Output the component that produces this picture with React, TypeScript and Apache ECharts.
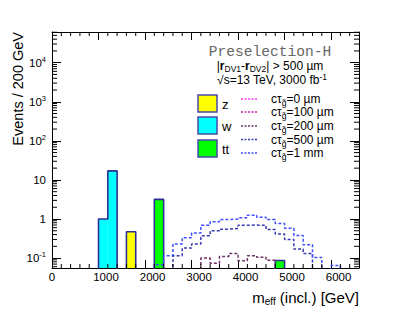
import React, { useEffect, useRef } from 'react';
import * as echarts from 'echarts';

const X_MIN = 0;
const X_MAX = 6600;
const Y_MIN = 0.0557;
const Y_MAX = 61000;
const BIN = 200;
const LOW = Y_MIN * 0.3; // below the frame: drawn clipped, like empty bins

// background histograms: [bin low edge (GeV), events]
const zBins = [[1600, 0.47]];
const wBins = [[1000, 1.0], [1200, 17]];
const ttBins = [[2200, 3.17], [4800, 0.087]];

// signal histograms, bins of 200 GeV starting at 2200 GeV
const sigBinStarts = [2200, 2400, 2600, 2800, 3000, 3200, 3400, 3600, 3800, 4000, 4200, 4400, 4600, 4800, 5000, 5200, 5400, 5600, 5800, 6000, 6200, 6400];
const ct0um   = [0, 0, 0, 0, 0, 0, 0, 0, 0, 0, 0, 0, 0, 0, 0, 0, 0, 0, 0, 0, 0, 0];
const ct100um = [0, 0, 0, 0, 0, 0, 0, 0, 0, 0, 0, 0, 0, 0, 0, 0, 0, 0, 0, 0, 0, 0];
const ct200um = [0, 0, 0, 0, 0, 0.1, 0.074, 0.11, 0.13, 0.085, 0.115, 0.105, 0.088, 0, 0, 0, 0, 0, 0, 0, 0, 0];
const ct500um = [0, 0, 0.115, 0.18, 0.23, 0.37, 0.5, 0.55, 0.57, 0.69, 0.7, 0.69, 0.54, 0.41, 0.3, 0.17, 0.13, 0, 0, 0, 0, 0];
const ct1mm   = [0.067, 0.115, 0.23, 0.33, 0.44, 0.69, 0.85, 0.97, 1.0, 1.07, 1.25, 1.11, 0.97, 0.77, 0.58, 0.38, 0.22, 0.104, 0, 0.065, 0, 0];

const xTickLabels = [0, 1000, 2000, 3000, 4000, 5000, 6000];

const bkgNames = ['z', 'w', 'tt'];
const sigNames = ['0 µm', '100 µm', '200 µm', '500 µm', '1 mm'];

const NAVY = '#2e2e96';
const bkgColors = ['#ffff00', '#00ffff', '#00ff00'];
const sigColors = ['#ff33ff', '#cc1fb0', '#6e3266', '#3a3ab4', '#4050ff'];

const FONT = 'Liberation Sans, Arial, sans-serif';

function outlinePoints(bins: number[][]) {
  const pts: number[][] = [];
  bins.forEach(([x, v], i) => {
    const prev = bins[i - 1];
    if (!prev || prev[0] + BIN !== x) pts.push([x, LOW]);
    pts.push([x, v]);
    const next = bins[i + 1];
    if (!next || next[0] !== x + BIN) pts.push([x + BIN, LOW]);
  });
  return pts;
}

function sigPoints(vals: number[]) {
  const pts: number[][] = [[sigBinStarts[0], LOW]];
  vals.forEach((v, i) => pts.push([sigBinStarts[i], v > 0 ? v : LOW]));
  pts.push([sigBinStarts[sigBinStarts.length - 1] + BIN, LOW]);
  return pts;
}

function yMinorValues() {
  const out: number[][] = [];
  for (let d = -2; d <= 4; d++) {
    for (let k = 2; k <= 9; k++) {
      const v = k * Math.pow(10, d);
      if (v > Y_MIN && v < Y_MAX) out.push([X_MIN, v]);
    }
  }
  return out;
}

function xMinorValues() {
  const out: number[][] = [];
  for (let x = BIN; x < X_MAX; x += BIN) {
    if (x % 1000 !== 0) out.push([x, Y_MIN]);
  }
  return out;
}

export default function App() {
  const ref = useRef<HTMLDivElement>(null);
  useEffect(() => {
    if (!ref.current) return;
    const chart = echarts.init(ref.current, null, { renderer: 'svg' });

    const bkgSets = [zBins, wBins, ttBins];
    const sigSets = [ct0um, ct100um, ct200um, ct500um, ct1mm];

    const fillSeries = bkgSets.map((bins, i) => ({
      type: 'custom',
      name: bkgNames[i],
      clip: true,
      z: 2,
      data: bins,
      encode: { x: 0, y: 1 },
      renderItem: (params: any, api: any) => {
        const x0 = api.value(0);
        const v = api.value(1);
        const p0 = api.coord([x0, v]);
        const p1 = api.coord([x0 + BIN, Y_MIN]);
        return {
          type: 'rect',
          shape: { x: p0[0], y: p0[1], width: p1[0] - p0[0], height: p1[1] - p0[1] },
          style: { fill: bkgColors[i], stroke: 'none' },
        };
      },
    }));

    const outlineSeries = bkgSets.map((bins, i) => ({
      type: 'line',
      name: bkgNames[i] + ' outline',
      step: 'end',
      symbol: 'none',
      z: 3,
      clip: true,
      data: outlinePoints(bins),
      lineStyle: { color: NAVY, width: 1.6 },
    }));

    const sigSeries = sigSets.map((vals, i) => ({
      type: 'line',
      name: sigNames[i],
      step: 'end',
      symbol: 'none',
      z: 4,
      clip: true,
      data: sigPoints(vals),
      lineStyle: { color: sigColors[i], width: 1.5, type: [3, 2] },
    }));

    const yMinor = {
      type: 'custom',
      name: 'yminor',
      clip: false,
      z: 5,
      data: yMinorValues(),
      encode: { x: 0, y: 1 },
      renderItem: (params: any, api: any) => {
        const v = api.value(1);
        const l = api.coord([X_MIN, v]);
        const r = api.coord([X_MAX, v]);
        return {
          type: 'group',
          children: [
            { type: 'line', shape: { x1: l[0], y1: l[1], x2: l[0] + 5, y2: l[1] }, style: { stroke: '#000', lineWidth: 1 } },
            { type: 'line', shape: { x1: r[0] - 5, y1: r[1], x2: r[0], y2: r[1] }, style: { stroke: '#000', lineWidth: 1 } },
          ],
        };
      },
    };

    const xMinor = {
      type: 'custom',
      name: 'xminor',
      clip: false,
      z: 5,
      data: xMinorValues(),
      encode: { x: 0, y: 1 },
      renderItem: (params: any, api: any) => {
        const x = api.value(0);
        const b = api.coord([x, Y_MIN]);
        const t = api.coord([x, Y_MAX]);
        return {
          type: 'group',
          children: [
            { type: 'line', shape: { x1: b[0], y1: b[1], x2: b[0], y2: b[1] - 4 }, style: { stroke: '#000', lineWidth: 1 } },
            { type: 'line', shape: { x1: t[0], y1: t[1], x2: t[0], y2: t[1] + 4 }, style: { stroke: '#000', lineWidth: 1 } },
          ],
        };
      },
    };

    const axisLine = { show: true, onZero: false, lineStyle: { color: '#000', width: 1 } };

    const legendY = [99, 112, 126, 139.5, 153];
    const boxY = [95, 117, 140];

    const graphics: any[] = [
      {
        type: 'text', x: 18, y: 32, rotation: Math.PI / 2,
        style: { text: 'Events / 200 GeV', font: `14.5px ${FONT}`, fill: '#000', align: 'right', verticalAlign: 'middle' },
      },
      {
        type: 'text', x: 359, y: 297,
        style: {
          text: '{m|m}{s|eff}{m| (incl.) [GeV]}', align: 'right', verticalAlign: 'middle',
          rich: {
            m: { fontSize: 15, fontFamily: FONT, fill: '#000' },
            s: { fontSize: 10, fontFamily: FONT, fill: '#000', padding: [8, 0, 0, 0] },
          },
        },
      },
      {
        type: 'text', x: 270, y: 52,
        style: { text: 'Preselection-H', font: `14.6px "Liberation Mono", "DejaVu Sans Mono", monospace`, fill: '#666', align: 'center', verticalAlign: 'middle' },
      },
      {
        type: 'text', x: 270, y: 66,
        style: {
          text: '{n||}{b|r}{s|DV1}{n|-}{b|r}{s|DV2}{n|| > 500 µm}', align: 'center', verticalAlign: 'middle',
          rich: {
            n: { fontSize: 12, fontFamily: FONT, fill: '#000' },
            b: { fontSize: 12, fontFamily: FONT, fill: '#000', fontWeight: 'bold' },
            s: { fontSize: 8.5, fontFamily: FONT, fill: '#000', padding: [6, 0, 0, 0] },
          },
        },
      },
      {
        type: 'text', x: 272, y: 80,
        style: {
          text: '{n|√s=13 TeV, 3000 fb}{p|-1}', align: 'center', verticalAlign: 'middle',
          rich: {
            n: { fontSize: 12, fontFamily: FONT, fill: '#000' },
            p: { fontSize: 8.5, fontFamily: FONT, fill: '#000', padding: [0, 0, 6, 0] },
          },
        },
      },
    ];

    bkgNames.forEach((name, i) => {
      graphics.push({
        type: 'rect', shape: { x: 198, y: boxY[i], width: 19, height: 17 },
        style: { fill: bkgColors[i], stroke: '#4848aa', lineWidth: 1.5 },
      });
      graphics.push({
        type: 'text', x: 222, y: boxY[i] + 9,
        style: { text: name, font: `13px ${FONT}`, fill: '#000', align: 'left', verticalAlign: 'middle' },
      });
    });

    sigNames.forEach((name, i) => {
      graphics.push({
        type: 'line', shape: { x1: 241, y1: legendY[i], x2: 257, y2: legendY[i] },
        style: { stroke: sigColors[i], lineWidth: 1.3, lineDash: [2, 1.5] },
      });
      graphics.push({
        type: 'text', x: 271, y: legendY[i],
        style: {
          text: `{n|cτ}{s|g̃}{n|=${name}}`, align: 'left', verticalAlign: 'middle',
          rich: {
            n: { fontSize: 12, fontFamily: FONT, fill: '#000' },
            s: { fontSize: 8.5, fontFamily: FONT, fill: '#000', padding: [8, 0, 0, 0] },
          },
        },
      });
    });

    const option: any = {
      animation: false,
      grid: { left: 52, right: 40, top: 32, bottom: 48, containLabel: false, outerBoundsMode: 'none' },
      xAxis: [
        {
          type: 'value', min: X_MIN, max: X_MAX, interval: 1000, position: 'bottom',
          axisLine, splitLine: { show: false },
          axisTick: { inside: true, length: 8, lineStyle: { color: '#000' } },
          axisLabel: {
            margin: 3, color: '#000', fontSize: 11.5, fontFamily: FONT, showMaxLabel: false,
            formatter: (v: number) => (xTickLabels.indexOf(v) < 0 ? '' : v === 0 ? '0' : `{p|${v}}`),
            rich: { p: { fontSize: 11.5, fontFamily: FONT, color: '#000', padding: [0, 0, 0, 15] } },
          },
        },
        {
          type: 'value', min: X_MIN, max: X_MAX, interval: 1000, position: 'top',
          axisLine, splitLine: { show: false },
          axisTick: { inside: true, length: 8, lineStyle: { color: '#000' } },
          axisLabel: { show: false },
        },
      ],
      yAxis: [
        {
          type: 'log', logBase: 10, min: Y_MIN, max: Y_MAX, position: 'left',
          axisLine, splitLine: { show: false },
          axisTick: { inside: true, length: 9, lineStyle: { color: '#000' } },
          axisLabel: {
            margin: 6, color: '#000', fontSize: 11.5, fontFamily: FONT,
            formatter: (v: number) => {
              const l = Math.log10(v);
              const e = Math.round(l);
              if (Math.abs(l - e) > 0.01) return '';
              if (e === 0) return '1';
              if (e === 1) return '10';
              return `{b|10}{s|${e}}`;
            },
            rich: {
              b: { fontSize: 11.5, fontFamily: FONT, color: '#000' },
              s: { fontSize: 7.5, fontFamily: FONT, color: '#000', padding: [0, 0, 7, 0] },
            },
          },
        },
        {
          type: 'log', logBase: 10, min: Y_MIN, max: Y_MAX, position: 'right',
          axisLine, splitLine: { show: false },
          axisTick: { inside: true, length: 9, lineStyle: { color: '#000' } },
          axisLabel: { show: false },
        },
      ],
      series: [...fillSeries, ...outlineSeries, ...sigSeries, yMinor, xMinor],
      graphic: graphics,
    };

    chart.setOption(option);
    return () => chart.dispose();
  }, []);

  return (
    <div
      ref={ref}
      style={{ position: 'fixed', left: 0, top: 0, width: 399, height: 316, background: '#fff' }}
    />
  );
}
